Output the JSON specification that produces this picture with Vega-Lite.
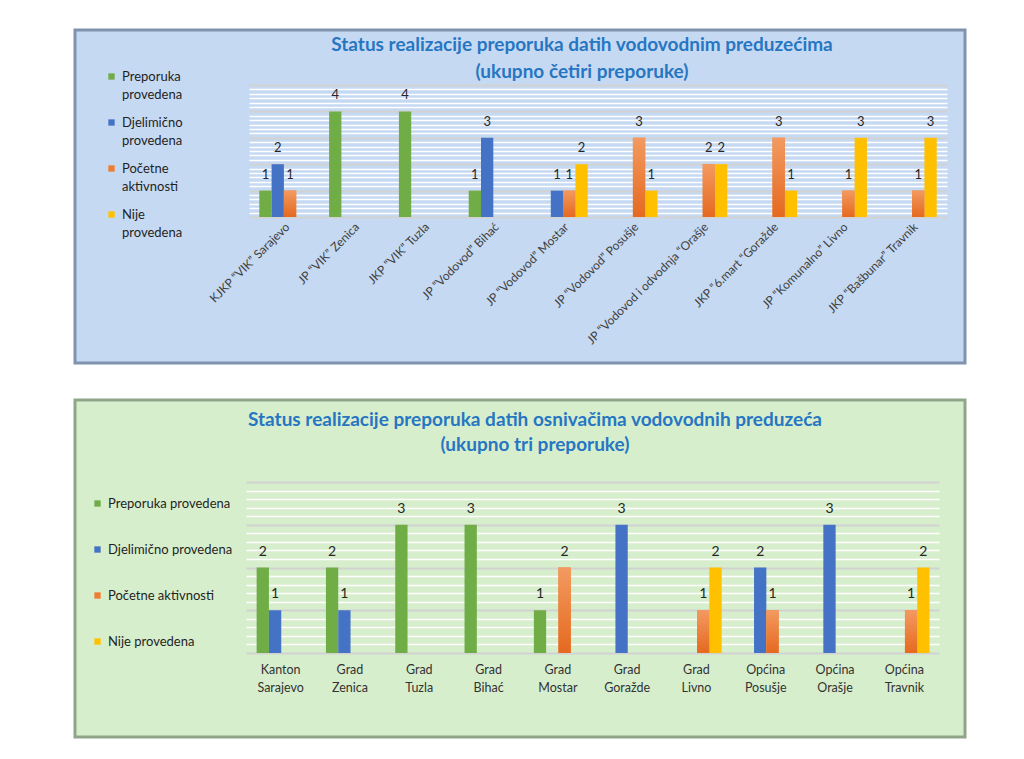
{
  "$schema": "https://vega.github.io/schema/vega-lite/v6.json",
  "background": "white",
  "padding": {"left": 73, "top": 28, "right": 0, "bottom": 0},
  "spacing": 33,
  "config": {
    "font": "Lato",
    "style": {"guide-label": {"lineHeight": 18}}
  },
  "datasets": {
    "companies": [
      {"entity": "KJKP “VIK” Sarajevo", "series": "Preporuka provedena", "value": 1},
      {"entity": "KJKP “VIK” Sarajevo", "series": "Djelimično provedena", "value": 2},
      {"entity": "KJKP “VIK” Sarajevo", "series": "Početne aktivnosti", "value": 1},
      {"entity": "JP “VIK” Zenica", "series": "Preporuka provedena", "value": 4},
      {"entity": "JKP “VIK” Tuzla", "series": "Preporuka provedena", "value": 4},
      {"entity": "JP “Vodovod” Bihać", "series": "Preporuka provedena", "value": 1},
      {"entity": "JP “Vodovod” Bihać", "series": "Djelimično provedena", "value": 3},
      {"entity": "JP “Vodovod” Mostar", "series": "Djelimično provedena", "value": 1},
      {"entity": "JP “Vodovod” Mostar", "series": "Početne aktivnosti", "value": 1},
      {"entity": "JP “Vodovod” Mostar", "series": "Nije provedena", "value": 2},
      {"entity": "JP “Vodovod” Posušje", "series": "Početne aktivnosti", "value": 3},
      {"entity": "JP “Vodovod” Posušje", "series": "Nije provedena", "value": 1},
      {"entity": "JP “Vodovod i odvodnja “Orašje", "series": "Početne aktivnosti", "value": 2},
      {"entity": "JP “Vodovod i odvodnja “Orašje", "series": "Nije provedena", "value": 2},
      {"entity": "JKP “6.mart “Goražde", "series": "Početne aktivnosti", "value": 3},
      {"entity": "JKP “6.mart “Goražde", "series": "Nije provedena", "value": 1},
      {"entity": "JP “Komunalno” Livno", "series": "Početne aktivnosti", "value": 1},
      {"entity": "JP “Komunalno” Livno", "series": "Nije provedena", "value": 3},
      {"entity": "JKP “Bašbunar” Travnik", "series": "Početne aktivnosti", "value": 1},
      {"entity": "JKP “Bašbunar” Travnik", "series": "Nije provedena", "value": 3}
    ],
    "founders": [
      {"entity": "Kanton Sarajevo", "series": "Preporuka provedena", "value": 2},
      {"entity": "Kanton Sarajevo", "series": "Djelimično provedena", "value": 1},
      {"entity": "Grad Zenica", "series": "Preporuka provedena", "value": 2},
      {"entity": "Grad Zenica", "series": "Djelimično provedena", "value": 1},
      {"entity": "Grad Tuzla", "series": "Preporuka provedena", "value": 3},
      {"entity": "Grad Bihać", "series": "Preporuka provedena", "value": 3},
      {"entity": "Grad Mostar", "series": "Preporuka provedena", "value": 1},
      {"entity": "Grad Mostar", "series": "Početne aktivnosti", "value": 2},
      {"entity": "Grad Goražde", "series": "Djelimično provedena", "value": 3},
      {"entity": "Grad Livno", "series": "Početne aktivnosti", "value": 1},
      {"entity": "Grad Livno", "series": "Nije provedena", "value": 2},
      {"entity": "Općina Posušje", "series": "Djelimično provedena", "value": 2},
      {"entity": "Općina Posušje", "series": "Početne aktivnosti", "value": 1},
      {"entity": "Općina Orašje", "series": "Djelimično provedena", "value": 3},
      {"entity": "Općina Travnik", "series": "Početne aktivnosti", "value": 1},
      {"entity": "Općina Travnik", "series": "Nije provedena", "value": 2}
    ]
  },
  "resolve": {"scale": {"color": "independent"}, "legend": {"color": "independent"}},
  "vconcat": [
    {
      "width": 890,
      "height": 333,
      "view": {"fill": "#C6D9F2", "stroke": "#7F93AE", "strokeWidth": 3},
      "title": {
        "text": ["Status realizacije preporuka datih vodovodnim preduzećima", "(ukupno četiri preporuke)"],
        "font": "Lato", "fontSize": 19, "fontWeight": "bold", "color": "#2676C2",
        "anchor": "middle", "frame": "group", "offset": -52, "dx": 62, "lineHeight": 27
      },
      "data": {"name": "companies"},
      "encoding": {
        "x": {
          "field": "entity", "type": "nominal",
          "scale": {
            "domain": ["KJKP “VIK” Sarajevo", "JP “VIK” Zenica", "JKP “VIK” Tuzla", "JP “Vodovod” Bihać", "JP “Vodovod” Mostar", "JP “Vodovod” Posušje", "JP “Vodovod i odvodnja “Orašje", "JKP “6.mart “Goražde", "JP “Komunalno” Livno", "JKP “Bašbunar” Travnik"],
            "range": [174, 872], "paddingInner": 0.295, "paddingOuter": 0.1475
          },
          "axis": {
            "title": null, "domain": false, "ticks": false, "labelAngle": -45,
            "labelFont": "Lato", "labelFontSize": 12, "labelColor": "#404040",
            "labelPadding": 4, "labelLimit": 300, "offset": -146
          }
        },
        "xOffset": {
          "field": "series", "type": "nominal",
          "scale": {"domain": ["Preporuka provedena", "Djelimično provedena", "Početne aktivnosti", "Nije provedena"], "paddingInner": 0, "paddingOuter": 0}
        },
        "y": {
          "field": "value", "type": "quantitative",
          "scale": {"domain": [0, 5], "range": [187, 55], "nice": false},
          "axis": {
            "title": null, "labels": false, "ticks": false, "domain": false,
            "grid": true,
            "values": [0, 0.1667, 0.3333, 0.5, 0.6667, 0.8333, 1, 1.1667, 1.3333, 1.5, 1.6667, 1.8333, 2, 2.1667, 2.3333, 2.5, 2.6667, 2.8333, 3, 3.1667, 3.3333, 3.5, 3.6667, 3.8333, 4, 4.1667, 4.3333, 4.5, 4.6667, 4.8333, 5],
            "gridColor": {"condition": {"test": "datum.value % 1 === 0", "value": "#D2D2D2"}, "value": "#FFFFFF"},
            "gridWidth": {"condition": {"test": "datum.value % 1 === 0", "value": 2}, "value": 1.5}
          }
        }
      },
      "layer": [
        {
          "mark": {"type": "bar"},
          "encoding": {
            "color": {
              "field": "series", "type": "nominal",
              "scale": {"domain": ["Preporuka provedena", "Djelimično provedena", "Početne aktivnosti", "Nije provedena"], "range": ["#70AD47", "#4472C4", "#ED7D31", "#FFC000"]},
              "legend": {
                "title": null, "orient": "none", "legendX": 30, "legendY": 40,
                "symbolType": "square", "symbolSize": 40, "symbolStrokeWidth": 0,
                "labelFont": "Lato", "labelFontSize": 13, "labelColor": "#1F1F1F",
                "labelExpr": "split(datum.label, ' ')", "labelOffset": 4,
                "rowPadding": 14, "padding": 0
              }
            }
          }
        },
        {
          "transform": [{"filter": "datum.series === 'Početne aktivnosti'"}],
          "mark": {
            "type": "bar",
            "fill": {"gradient": "linear", "x1": 0, "y1": 0, "x2": 0, "y2": 1, "stops": [{"offset": 0, "color": "#F39A60"}, {"offset": 1, "color": "#E5691F"}]}
          }
        },
        {
          "mark": {"type": "text", "baseline": "alphabetic", "dy": -12, "fontSize": 13, "font": "Lato", "color": "#262626"},
          "encoding": {"text": {"field": "value", "type": "quantitative"}}
        }
      ]
    },
    {
      "width": 890,
      "height": 337,
      "view": {"fill": "#D7EECD", "stroke": "#8FA58A", "strokeWidth": 3},
      "title": {
        "text": ["Status realizacije preporuka datih osnivačima vodovodnih preduzeća", "(ukupno tri preporuke)"],
        "font": "Lato", "fontSize": 19, "fontWeight": "bold", "color": "#2676C2",
        "anchor": "middle", "frame": "group", "offset": -55, "dx": 15, "lineHeight": 25
      },
      "data": {"name": "founders"},
      "encoding": {
        "x": {
          "field": "entity", "type": "nominal",
          "scale": {
            "domain": ["Kanton Sarajevo", "Grad Zenica", "Grad Tuzla", "Grad Bihać", "Grad Mostar", "Grad Goražde", "Grad Livno", "Općina Posušje", "Općina Orašje", "Općina Travnik"],
            "range": [171, 864], "paddingInner": 0.307, "paddingOuter": 0.1535
          },
          "axis": {
            "title": null, "domain": false, "ticks": false, "labelAngle": 0,
            "labelExpr": "split(datum.label, ' ')", "labelLineHeight": 18,
            "labelFont": "Lato", "labelFontSize": 12.5, "labelColor": "#333333",
            "labelPadding": 10, "offset": -84
          }
        },
        "xOffset": {
          "field": "series", "type": "nominal",
          "scale": {"domain": ["Preporuka provedena", "Djelimično provedena", "Početne aktivnosti", "Nije provedena"], "paddingInner": 0, "paddingOuter": 0}
        },
        "y": {
          "field": "value", "type": "quantitative",
          "scale": {"domain": [0, 4], "range": [253, 82], "nice": false},
          "axis": {
            "title": null, "labels": false, "ticks": false, "domain": false,
            "grid": true,
            "values": [0, 0.2, 0.4, 0.6, 0.8, 1, 1.2, 1.4, 1.6, 1.8, 2, 2.2, 2.4, 2.6, 2.8, 3, 3.2, 3.4, 3.6, 3.8, 4],
            "gridColor": {"condition": {"test": "datum.value % 1 === 0", "value": "#D2D2D2"}, "value": "#FFFFFF"},
            "gridWidth": {"condition": {"test": "datum.value % 1 === 0", "value": 2}, "value": 1.5}
          }
        }
      },
      "layer": [
        {
          "mark": {"type": "bar"},
          "encoding": {
            "color": {
              "field": "series", "type": "nominal",
              "scale": {"domain": ["Preporuka provedena", "Djelimično provedena", "Početne aktivnosti", "Nije provedena"], "range": ["#70AD47", "#4472C4", "#ED7D31", "#FFC000"]},
              "legend": {
                "title": null, "orient": "none", "legendX": 16, "legendY": 97,
                "symbolType": "square", "symbolSize": 40, "symbolStrokeWidth": 0,
                "labelFont": "Lato", "labelFontSize": 13, "labelColor": "#1F1F1F",
                "labelOffset": 4, "rowPadding": 32, "padding": 0
              }
            }
          }
        },
        {
          "transform": [{"filter": "datum.series === 'Početne aktivnosti'"}],
          "mark": {
            "type": "bar",
            "fill": {"gradient": "linear", "x1": 0, "y1": 0, "x2": 0, "y2": 1, "stops": [{"offset": 0, "color": "#F39A60"}, {"offset": 1, "color": "#E5691F"}]}
          }
        },
        {
          "mark": {"type": "text", "baseline": "alphabetic", "dy": -12, "fontSize": 14, "font": "Lato", "color": "#262626"},
          "encoding": {"text": {"field": "value", "type": "quantitative"}}
        }
      ]
    }
  ]
}
